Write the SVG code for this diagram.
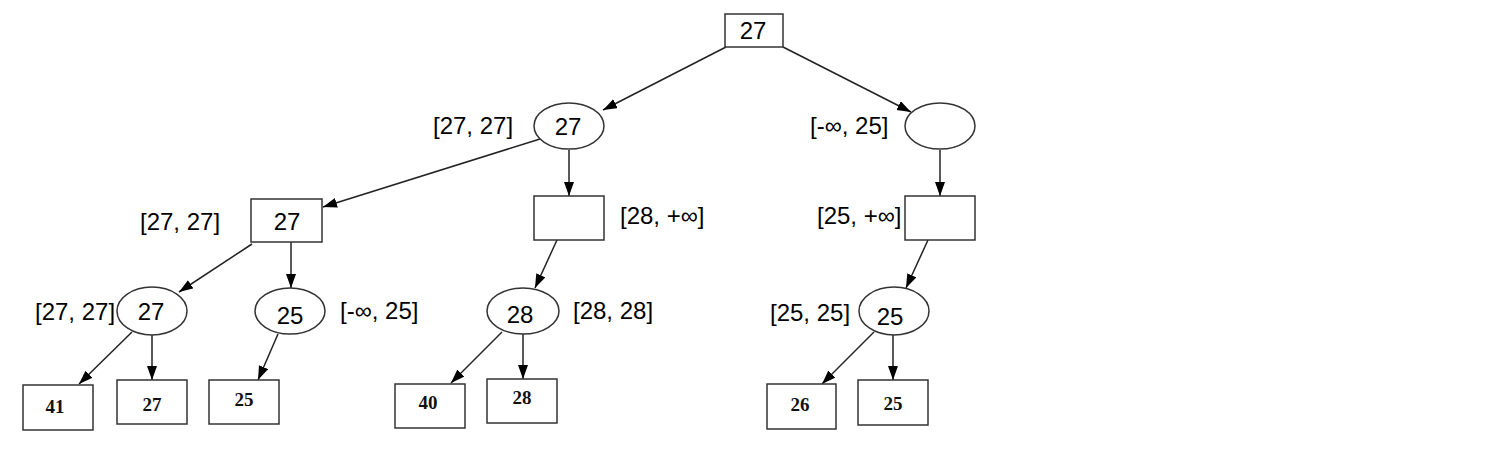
<svg xmlns="http://www.w3.org/2000/svg" width="1503" height="458" viewBox="0 0 1503 458">
<style>
.n{fill:#fff;stroke:#333;stroke-width:1.5}
.t{font-family:"Liberation Sans",Arial,sans-serif;font-size:24px;fill:#000;text-anchor:middle}
.lb{font-family:"Liberation Sans",Arial,sans-serif;font-size:24px;fill:#000}
.lf{font-family:"Liberation Serif","Times New Roman",serif;font-size:19px;font-weight:bold;fill:#111;text-anchor:middle}
.e{stroke:#222;stroke-width:1.5;fill:none;marker-end:url(#ah)}
</style>
<defs>
<marker id="ah" markerUnits="userSpaceOnUse" markerWidth="15" markerHeight="11" refX="14" refY="5" orient="auto">
<path d="M0,0 L14,5 L0,10 z" fill="#000"/>
</marker>
</defs>
<rect width="1503" height="458" fill="#fff"/>
<g id="connectors">
<line class="e" x1="726" y1="47" x2="603" y2="110"/>
<line class="e" x1="783" y1="47" x2="911" y2="112"/>
<line class="e" x1="540" y1="139" x2="323" y2="207"/>
<line class="e" x1="569" y1="150" x2="569" y2="196"/>
<line class="e" x1="940" y1="150" x2="940" y2="196"/>
<line class="e" x1="252" y1="244" x2="179" y2="292"/>
<line class="e" x1="291" y1="242" x2="291" y2="288"/>
<line class="e" x1="132" y1="332" x2="79" y2="384"/>
<line class="e" x1="152" y1="335" x2="152" y2="380"/>
<line class="e" x1="278" y1="334" x2="258" y2="380"/>
<line class="e" x1="557" y1="240" x2="535" y2="288"/>
<line class="e" x1="502" y1="332" x2="451" y2="383"/>
<line class="e" x1="523" y1="334" x2="523" y2="379"/>
<line class="e" x1="928" y1="240" x2="906" y2="288"/>
<line class="e" x1="874" y1="332" x2="822" y2="384"/>
<line class="e" x1="893" y1="335" x2="893" y2="380"/>
</g>
<g id="root"><rect class="n" x="725" y="14" width="58" height="33"/><text class="t" x="753" y="39">27</text></g>
<g id="min-left"><ellipse class="n" cx="569" cy="126" rx="35" ry="23"/><text class="t" x="568" y="134.5">27</text><text class="lb" x="433" y="133.5">[27, 27]</text></g>
<g id="min-right"><ellipse class="n" cx="940" cy="126" rx="35" ry="23"/><text class="lb" x="810" y="134">[-∞, 25]</text></g>
<g id="max-ll"><rect class="n" x="251" y="199" width="71" height="43"/><text class="t" x="287" y="229.5">27</text><text class="lb" x="140" y="230">[27, 27]</text></g>
<g id="max-lr"><rect class="n" x="534" y="196" width="70" height="44"/><text class="lb" x="620" y="224">[28, +∞]</text></g>
<g id="max-r"><rect class="n" x="905" y="196" width="70" height="44"/><text class="lb" x="817" y="224">[25, +∞]</text></g>
<g id="min-a"><ellipse class="n" cx="152" cy="311" rx="35" ry="24"/><text class="t" x="151" y="319.5">27</text><text class="lb" x="35" y="320">[27, 27]</text></g>
<g id="min-b"><ellipse class="n" cx="290" cy="311" rx="35" ry="23"/><text class="t" x="290" y="323.5">25</text><text class="lb" x="340" y="319">[-∞, 25]</text></g>
<g id="min-c"><ellipse class="n" cx="523" cy="311" rx="36" ry="23"/><text class="t" x="520" y="322.5">28</text><text class="lb" x="573" y="319">[28, 28]</text></g>
<g id="min-d"><ellipse class="n" cx="894" cy="311" rx="35" ry="24"/><text class="t" x="890" y="325">25</text><text class="lb" x="770" y="321">[25, 25]</text></g>
<g id="leaf-41"><rect class="n" x="23" y="385" width="70" height="45"/><text class="lf" x="55" y="413">41</text></g>
<g id="leaf-27"><rect class="n" x="117" y="380" width="70" height="44"/><text class="lf" x="152" y="411">27</text></g>
<g id="leaf-25a"><rect class="n" x="209" y="380" width="70" height="44"/><text class="lf" x="244" y="406">25</text></g>
<g id="leaf-40"><rect class="n" x="395" y="384" width="70" height="44"/><text class="lf" x="428" y="409">40</text></g>
<g id="leaf-28"><rect class="n" x="487" y="379" width="70" height="44"/><text class="lf" x="522" y="404">28</text></g>
<g id="leaf-26"><rect class="n" x="767" y="384" width="69" height="45"/><text class="lf" x="800" y="411">26</text></g>
<g id="leaf-25b"><rect class="n" x="858" y="380" width="70" height="45"/><text class="lf" x="893" y="410">25</text></g>
</svg>
